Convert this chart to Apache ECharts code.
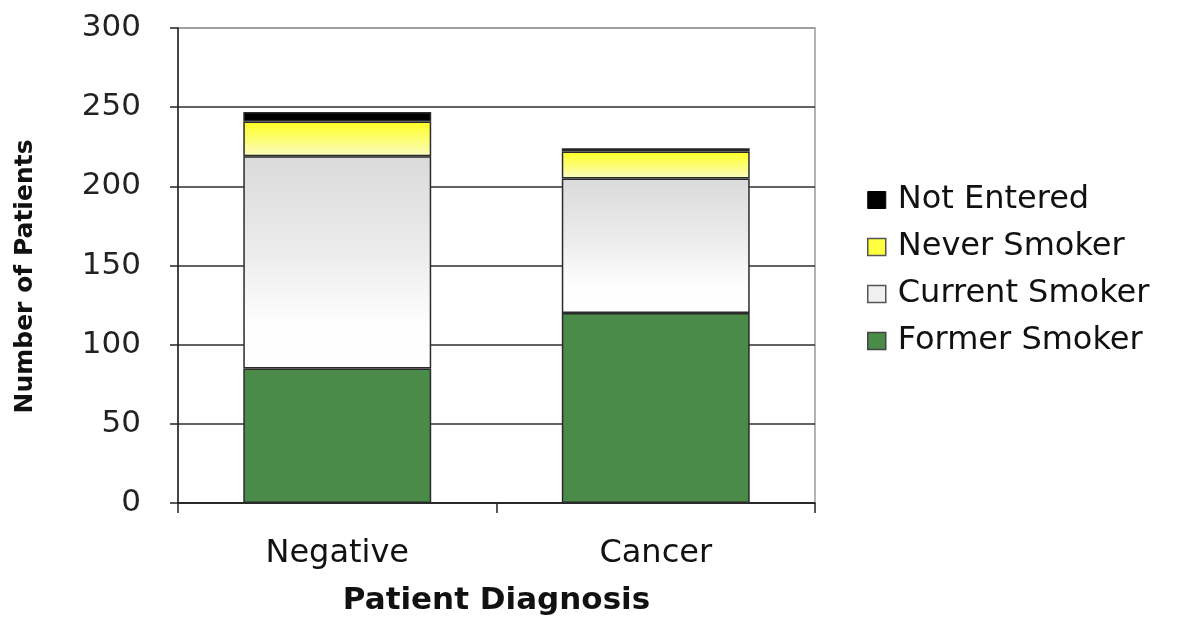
<!DOCTYPE html>
<html>
<head>
<meta charset="utf-8">
<title>Smoking Status by Patient Diagnosis</title>
<script src="https://cdn.jsdelivr.net/npm/echarts@6/dist/echarts.min.js"></script>
<style>
  html, body { margin: 0; padding: 0; background: #ffffff; }
  #chart { width: 1184px; height: 618px; }
</style>
</head>
<body>
<div id="chart"></div>
<script>
// Diagnosis groups along the x axis
const categories = ['Negative', 'Cancer'];

// Patient counts per smoking status (stacked bottom to top)
const formerSmoker  = [85, 120];
const currentSmoker = [134, 85];
const neverSmoker   = [22, 17];
const notEntered    = [6, 2];

// Value axis ticks
const yTicks = [0, 50, 100, 150, 200, 250, 300];

const edge = '#2b2b2b';
const vGrad = (stops) => new echarts.graphic.LinearGradient(0, 0, 0, 1,
  stops.map(([offset, color]) => ({ offset, color })));

const chart = echarts.init(document.getElementById('chart'), null, { renderer: 'canvas' });

const barSeries = (name, data, color) => ({
  name,
  type: 'bar',
  stack: 'patients',
  data,
  barCategoryGap: '41%',
  itemStyle: { color, borderColor: edge, borderWidth: 1.5 },
  emphasis: { disabled: true }
});

chart.setOption({
  animation: false,
  backgroundColor: '#ffffff',
  grid: {
    left: 178, right: 369, top: 28, bottom: 115,
    outerBoundsMode: 'none',
    containLabel: false,
    show: true, borderColor: '#9a9a9a', borderWidth: 1.5,
    backgroundColor: 'transparent'
  },
  legend: {
    orient: 'vertical',
    left: 862,
    top: 179,
    icon: 'rect',
    itemWidth: 18,
    itemHeight: 17,
    itemGap: 15,
    data: [
      { name: 'Not Entered',    itemStyle: { color: '#000000', borderColor: '#000', borderWidth: 1 } },
      { name: 'Never Smoker',   itemStyle: { color: '#ffff40', borderColor: '#555', borderWidth: 1.5 } },
      { name: 'Current Smoker', itemStyle: { color: '#f0f0f0', borderColor: '#555', borderWidth: 1.5 } },
      { name: 'Former Smoker',  itemStyle: { color: '#4a8b4a', borderColor: '#444', borderWidth: 1.5 } }
    ],
    textStyle: {
      fontFamily: 'DejaVu Sans', fontSize: 32, color: '#111', lineHeight: 32, padding: [0, 0, 0, 7]
    },
    selectedMode: false
  },
  xAxis: {
    type: 'category',
    data: categories,
    boundaryGap: true,
    axisLine: { lineStyle: { color: '#222', width: 1.5 } },
    axisTick: { show: true, alignWithLabel: false, length: 10, lineStyle: { color: '#222', width: 1.5 } },
    axisLabel: { fontFamily: 'DejaVu Sans', fontSize: 32, color: '#111', margin: 35 },
    name: 'Patient Diagnosis',
    nameLocation: 'middle',
    nameGap: 82,
    nameTextStyle: { fontFamily: 'DejaVu Sans', fontWeight: 'bold', fontSize: 31, color: '#111' }
  },
  yAxis: {
    type: 'value',
    min: yTicks[0],
    max: yTicks[yTicks.length - 1],
    interval: yTicks[1] - yTicks[0],
    axisLine: { show: true, lineStyle: { color: '#222', width: 1.5 } },
    axisTick: { show: true, length: 8, lineStyle: { color: '#222', width: 1.5 } },
    axisLabel: { fontFamily: 'DejaVu Sans', fontSize: 31, color: '#222', margin: 37 },
    splitLine: {
      show: true,
      lineStyle: { color: ['#222', '#2e2e2e', '#2e2e2e', '#2e2e2e', '#2e2e2e', '#2e2e2e', '#9a9a9a'], width: 1.5 }
    },
    name: 'Number of Patients',
    nameLocation: 'middle',
    nameRotate: 90,
    nameGap: 140,
    nameTextStyle: {
      fontFamily: 'DejaVu Sans', fontWeight: 'bold', fontSize: 25, color: '#111',
      padding: [0, 22, 0, 0]
    }
  },
  series: [
    barSeries('Former Smoker', formerSmoker, '#4a8b4a'),
    barSeries('Current Smoker', currentSmoker,
      vGrad([[0, '#dadada'], [0.45, '#ececec'], [0.8, '#fefefe'], [1, '#ffffff']])),
    barSeries('Never Smoker', neverSmoker,
      vGrad([[0, '#ffff22'], [0.5, '#fdfd70'], [1, '#fbfbc4']])),
    barSeries('Not Entered', notEntered, '#000000')
  ]
});
</script>
</body>
</html>
